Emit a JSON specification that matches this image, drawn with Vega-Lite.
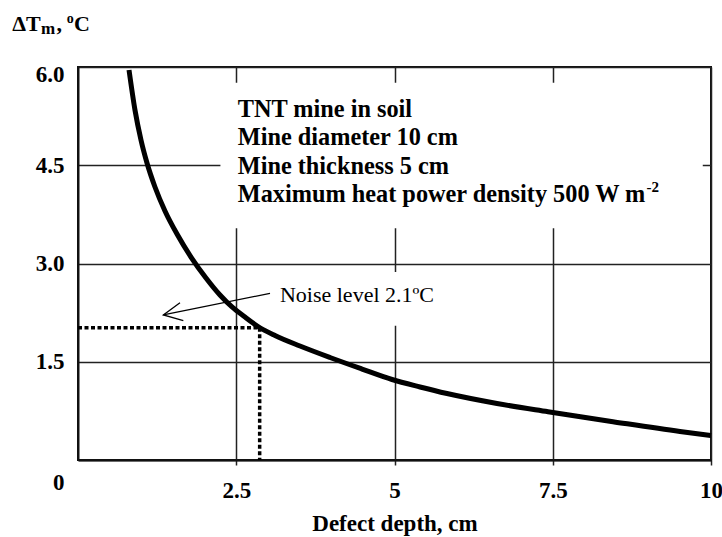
{
  "$schema": "https://vega.github.io/schema/vega-lite/v6.json",
  "width": 633,
  "height": 393,
  "autosize": {"type": "none"},
  "padding": {"left": 78, "top": 67, "right": 11, "bottom": 77},
  "background": "white",
  "config": {
    "font": "Liberation Serif",
    "view": {"stroke": "#111", "strokeWidth": 2},
    "text": {"font": "Liberation Serif", "color": "black"}
  },
  "datasets": {
    "curve": [
      {"depth": 0.806, "dT": 5.954},
      {"depth": 0.9, "dT": 5.344},
      {"depth": 0.995, "dT": 4.885},
      {"depth": 1.09, "dT": 4.534},
      {"depth": 1.216, "dT": 4.168},
      {"depth": 1.374, "dT": 3.802},
      {"depth": 1.564, "dT": 3.45},
      {"depth": 1.785, "dT": 3.099},
      {"depth": 2.022, "dT": 2.779},
      {"depth": 2.243, "dT": 2.519},
      {"depth": 2.433, "dT": 2.336},
      {"depth": 2.638, "dT": 2.183},
      {"depth": 2.844, "dT": 2.038},
      {"depth": 3.112, "dT": 1.901},
      {"depth": 3.507, "dT": 1.74},
      {"depth": 3.981, "dT": 1.565},
      {"depth": 4.487, "dT": 1.389},
      {"depth": 4.961, "dT": 1.229},
      {"depth": 5.403, "dT": 1.115},
      {"depth": 5.829, "dT": 1.015},
      {"depth": 6.619, "dT": 0.863},
      {"depth": 7.425, "dT": 0.737},
      {"depth": 8.452, "dT": 0.585},
      {"depth": 9.51, "dT": 0.435},
      {"depth": 10.0, "dT": 0.374}
    ],
    "boxes": [
      {"x1": 2.25, "x2": 9.87, "y1": 3.54, "y2": 5.76},
      {"x1": 3.03, "x2": 5.8, "y1": 2.05, "y2": 2.87}
    ],
    "dots": [
      {"seg": "h", "o": 1, "x": 0, "y": 2.02},
      {"seg": "h", "o": 2, "x": 2.87, "y": 2.02},
      {"seg": "v", "o": 1, "x": 2.87, "y": 2.02},
      {"seg": "v", "o": 2, "x": 2.87, "y": 0}
    ],
    "arrow": [
      {"seg": "shaft", "o": 1, "x": 3.033, "y": 2.545},
      {"seg": "shaft", "o": 2, "x": 1.348, "y": 2.214},
      {"seg": "head", "o": 1, "x": 1.611, "y": 2.402},
      {"seg": "head", "o": 2, "x": 1.348, "y": 2.214},
      {"seg": "head", "o": 3, "x": 1.664, "y": 2.127}
    ]
  },
  "layer": [
    {
      "data": {"name": "boxes"},
      "mark": {"type": "rect", "fill": "white", "stroke": null},
      "encoding": {
        "x": {
          "field": "x1", "type": "quantitative",
          "scale": {"domain": [0, 10], "nice": false, "zero": false},
          "axis": {
            "values": [2.5, 5, 7.5, 10],
            "format": "~g",
            "grid": true, "gridColor": "#222", "gridWidth": 1.5, "gridOpacity": 1,
            "domainColor": "#111", "domainWidth": 2,
            "ticks": true, "tickSize": 5, "tickColor": "#222", "tickWidth": 1.5,
            "labelFontSize": 23, "labelFontWeight": "bold", "labelColor": "black", "labelFont": "Liberation Serif",
            "labelPadding": 14, "labelFlush": false, "labelOverlap": false, "labelBaseline": "top",
            "title": "Defect depth, cm", "titleFontSize": 23, "titleFontWeight": "bold", "titleColor": "black",
            "titleFont": "Liberation Serif", "titlePadding": 10
          }
        },
        "x2": {"field": "x2"},
        "y": {
          "field": "y1", "type": "quantitative",
          "scale": {"domain": [0, 6], "nice": false, "zero": false},
          "axis": {
            "values": [0, 1.5, 3, 4.5, 6],
            "grid": true, "gridColor": "#222", "gridWidth": 1.5, "gridOpacity": 1,
            "domainColor": "#111", "domainWidth": 2,
            "ticks": false,
            "labelExpr": "datum.value == 0 ? '0' : format(datum.value, '.1f')",
            "labelFontSize": 23, "labelFontWeight": "bold", "labelColor": "black", "labelFont": "Liberation Serif",
            "labelPadding": 14, "labelFlush": false, "labelOverlap": false,
            "labelOffset": {"condition": [{"test": "datum.value == 0", "value": 22}, {"test": "datum.value == 6", "value": 7}], "value": 0},
            "title": null
          }
        },
        "y2": {"field": "y2"}
      }
    },
    {
      "data": {"name": "dots"},
      "mark": {"type": "line", "color": "black", "strokeWidth": 3.5, "strokeDash": [4, 2.5]},
      "encoding": {
        "x": {"field": "x", "type": "quantitative"},
        "y": {"field": "y", "type": "quantitative"},
        "detail": {"field": "seg"},
        "order": {"field": "o"}
      }
    },
    {
      "data": {"name": "curve"},
      "mark": {"type": "line", "color": "black", "strokeWidth": 5, "interpolate": "monotone"},
      "encoding": {
        "x": {"field": "depth", "type": "quantitative"},
        "y": {"field": "dT", "type": "quantitative"}
      }
    },
    {
      "data": {"name": "arrow"},
      "mark": {"type": "line", "color": "black", "strokeWidth": 1.3},
      "encoding": {
        "x": {"field": "x", "type": "quantitative"},
        "y": {"field": "y", "type": "quantitative"},
        "detail": {"field": "seg"},
        "order": {"field": "o"}
      }
    },
    {
      "data": {"values": [{}]},
      "mark": {"type": "text", "align": "left", "baseline": "alphabetic", "fontSize": 24.3, "fontWeight": "bold", "lineBreak": "\n", "lineHeight": 28.6},
      "encoding": {
        "x": {"datum": 2.523}, "y": {"datum": 5.244},
        "text": {"value": "TNT mine in soil\nMine diameter 10 cm\nMine thickness 5 cm\nMaximum heat power density 500 W m"}
      }
    },
    {
      "data": {"values": [{}]},
      "mark": {"type": "text", "align": "left", "baseline": "alphabetic", "fontSize": 15, "fontWeight": "bold"},
      "encoding": {"x": {"datum": 8.98}, "y": {"datum": 4.09}, "text": {"value": "-2"}}
    },
    {
      "data": {"values": [{}]},
      "mark": {"type": "text", "align": "left", "baseline": "alphabetic", "fontSize": 22},
      "encoding": {"x": {"datum": 3.19}, "y": {"datum": 2.41}, "text": {"value": "Noise level 2.1ºC"}}
    },
    {
      "data": {"values": [{}]},
      "mark": {"type": "text", "align": "left", "baseline": "alphabetic", "fontSize": 22, "fontWeight": "bold"},
      "encoding": {"x": {"datum": -1.04}, "y": {"datum": 6.55}, "text": {"value": "ΔT"}}
    },
    {
      "data": {"values": [{}]},
      "mark": {"type": "text", "align": "left", "baseline": "alphabetic", "fontSize": 17, "fontWeight": "bold"},
      "encoding": {"x": {"datum": -0.585}, "y": {"datum": 6.5}, "text": {"value": "m"}}
    },
    {
      "data": {"values": [{}]},
      "mark": {"type": "text", "align": "left", "baseline": "alphabetic", "fontSize": 22, "fontWeight": "bold"},
      "encoding": {"x": {"datum": -0.34}, "y": {"datum": 6.55}, "text": {"value": ","}}
    },
    {
      "data": {"values": [{}]},
      "mark": {"type": "text", "align": "left", "baseline": "alphabetic", "fontSize": 14, "fontWeight": "bold"},
      "encoding": {"x": {"datum": -0.178}, "y": {"datum": 6.667}, "text": {"value": "o"}}
    },
    {
      "data": {"values": [{}]},
      "mark": {"type": "text", "align": "left", "baseline": "alphabetic", "fontSize": 22, "fontWeight": "bold"},
      "encoding": {"x": {"datum": -0.063}, "y": {"datum": 6.55}, "text": {"value": "C"}}
    }
  ]
}
